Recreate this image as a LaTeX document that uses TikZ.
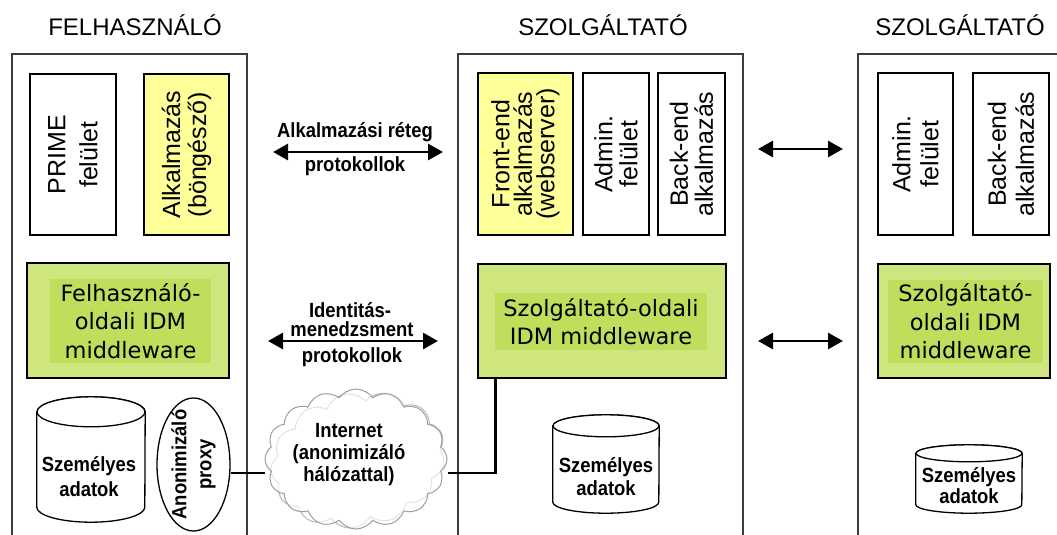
\documentclass[tikz,border=0pt]{standalone}
\usepackage{fontspec}
\setmainfont{Liberation Sans}
\newfontfamily\idmfont{DejaVu Sans}
\newfontfamily\lblfont[FakeStretch=0.9]{Liberation Sans}
\usetikzlibrary{shapes.geometric,shapes.symbols,arrows.meta}

\definecolor{appyellow}{RGB}{255,255,153}
\definecolor{idmgreen}{RGB}{206,230,125}
\definecolor{idmtext}{RGB}{190,222,92}
\definecolor{framegray}{RGB}{60,60,60}

\tikzset{
    apptbox/.style={draw, line width=1.3pt, rotate=90, align=center, inner sep=0pt, font=\fontsize{25}{27}\selectfont},
    idmbox/.style={draw, line width=1.3pt, fill=idmgreen, inner sep=0pt},
    idmtxt/.style={fill=idmtext, align=center, inner sep=0pt, font=\idmfont\fontsize{22.5}{28.5}\selectfont},
    lbl/.style={align=center, font=\lblfont\bfseries\fontsize{20.5}{24}\selectfont},
    storebody/.style={draw, line width=1.3pt, fill=white},
    dblarrow/.style={{Triangle[length=15pt,width=16pt]}-{Triangle[length=15pt,width=16pt]}, line width=2.8pt},
    link/.style={line width=2.5pt},
    frame/.style={draw=framegray, line width=1.3pt},
    title/.style={font=\fontsize{24}{28}\selectfont}
}

% data store: name, centre x, centre y, width, height, cap radius
\newcommand{\datastore}[6]{
    \node[minimum width=#4, minimum height=#5, inner sep=0pt] (#1) at (#2,#3) {};
    \draw[storebody] ([yshift=-#6pt]#1.north west) -- ([yshift=#6pt]#1.south west)
        arc[start angle=180, end angle=0, x radius=#4/2, y radius=#6]
        -- ([yshift=-#6pt]#1.north east)
        arc[start angle=0, end angle=-180, x radius=#4/2, y radius=#6] -- cycle;
    \draw[storebody] ([yshift=-#6pt]#1.north) ellipse[x radius=#4/2, y radius=#6];
}

\begin{document}
\begin{tikzpicture}[x=1pt, y=-1pt]
        \fill[white] (0,0) rectangle (1057,535);
        \useasboundingbox (0,0) rectangle (1057,535);

        % Titles
        \node[title] (tuser) at (135,25) {FELHASZNÁLÓ};
        \node[title] (tsp) at (603,25) {SZOLGÁLTATÓ};
        \node[title] (tsp2) at (960,25) {SZOLGÁLTATÓ};

        % Outer frames (open at the bottom)
        \draw[frame] (12,545) |- (247,54) -- (247,545);
        \draw[frame] (458,545) |- (743,54) -- (743,545);
        \draw[frame] (858,545) |- (1070,54);

        % User side
        \node[apptbox, minimum width=161, minimum height=86, font=\fontsize{25}{32}\selectfont] (prime) at (73,154.5) {PRIME\\felület};
        \node[apptbox, fill=appyellow, minimum width=161, minimum height=85, font=\fontsize{25}{26}\selectfont] (browser) at (186.5,154.5) {Alkalmazás\\(böngésző)};
        \node[idmbox, minimum width=202, minimum height=115] (uidm) at (128,320.5) {};
        \node[idmtxt, minimum width=161, minimum height=84] (uidmtxt) at (130.5,321) {Felhasználó-\\oldali IDM\\middleware};
        \datastore{udata}{91}{459.5}{108}{125}{15}
        \node[lbl, font=\lblfont\bfseries\fontsize{20.5}{25}\selectfont] (udatatxt) at (89,477) {Személyes\\adatok};
        \node[ellipse, draw, line width=1.3pt, fill=white, minimum width=73, minimum height=133, inner sep=0pt] (proxy) at (193.5,464.5) {};
        \node[lbl, rotate=90, font=\lblfont\bfseries\fontsize{20.5}{25}\selectfont] (proxytxt) at (proxy) {Anonimizáló\\proxy};

        % Internet cloud
        \node[cloud, cloud puffs=13, cloud puff arc=115, rotate=12, draw=gray!55, line width=1pt, minimum width=176, minimum height=134] (netb) at (358,460) {};
        \node[cloud, cloud puffs=16, cloud puff arc=110, draw=gray!75, line width=1pt, fill=white, fill opacity=0.6, minimum width=182, minimum height=140] (net) at (356,459) {};
        \node[lbl, font=\lblfont\bfseries\fontsize{20.5}{22}\selectfont] (nettxt) at (349,455) {Internet\\(anonimizáló\\hálózattal)};

        % Service provider
        \node[apptbox, fill=appyellow, minimum width=162, minimum height=95, font=\fontsize{25}{22.5}\selectfont] (front) at (525.5,154) {Front-end\\alkalmazás\\(webserver)};
        \node[apptbox, minimum width=162, minimum height=66, font=\fontsize{25}{25}\selectfont] (admin) at (616,154) {Admin.\\felület};
        \node[apptbox, minimum width=162, minimum height=67, font=\fontsize{25}{25}\selectfont] (back) at (691.5,154) {Back-end\\alkalmazás};
        \node[idmbox, minimum width=248, minimum height=114] (sidm) at (602,321) {};
        \node[idmtxt, minimum width=212, minimum height=57] (sidmtxt) at (601,321.5) {Szolgáltató-oldali\\IDM middleware};
        \datastore{sdata}{606}{464}{106}{98}{11}
        \node[lbl, font=\lblfont\bfseries\fontsize{20.5}{23}\selectfont] (sdatatxt) at (606,476.5) {Személyes\\adatok};

        % Second service provider
        \node[apptbox, minimum width=162, minimum height=75, font=\fontsize{25}{28}\selectfont] (admin2) at (915.5,154) {Admin.\\felület};
        \node[apptbox, minimum width=162, minimum height=76, font=\fontsize{25}{28}\selectfont] (back2) at (1011,154) {Back-end\\alkalmazás};
        \node[idmbox, minimum width=172, minimum height=114] (sidm2) at (964,321) {};
        \node[idmtxt, minimum width=155, minimum height=83] (sidm2txt) at (965.5,321.5) {Szolgáltató-\\oldali IDM\\middleware};
        \datastore{sdata2}{969}{479}{106}{68}{8.5}
        \node[lbl, font=\lblfont\bfseries\fontsize{20.5}{21}\selectfont] (sdata2txt) at (969,486) {Személyes\\adatok};

        % Protocol arrows
        \coordinate (appL) at (273,152);
        \coordinate (appR) at (443,152);
        \coordinate (idmL) at (268,341);
        \coordinate (idmR) at (438,341);
        \coordinate (fedL) at (758,149);
        \coordinate (fedR) at (843,149);
        \coordinate (fidL) at (758,341);
        \coordinate (fidR) at (843,341);
        \draw[dblarrow] (appL) -- (appR);
        \draw[dblarrow] (idmL) -- (idmR);
        \draw[dblarrow] (fedL) -- (fedR);
        \draw[dblarrow] (fidL) -- (fidR);
        \node[lbl] (applbl) at (355,132) {Alkalmazási réteg};
        \node[lbl] (appprot) at (355,166) {protokollok};
        \node[lbl, inner sep=0pt] (idmlbl) at (350,310) {Identitás-};
        \node[lbl, inner sep=0pt] (idmmgmt) at (352,329) {menedzsment};
        \node[lbl] (idmprot) at (352,357) {protokollok};

        % Network links
        \coordinate (lan) at (0,473);
        \draw[link] (proxy.east |- lan) -- (net.west |- lan);
        \draw[link] (net.east |- lan) -| ([xshift=18pt]sidm.south west);
    \end{tikzpicture}
\end{document}
